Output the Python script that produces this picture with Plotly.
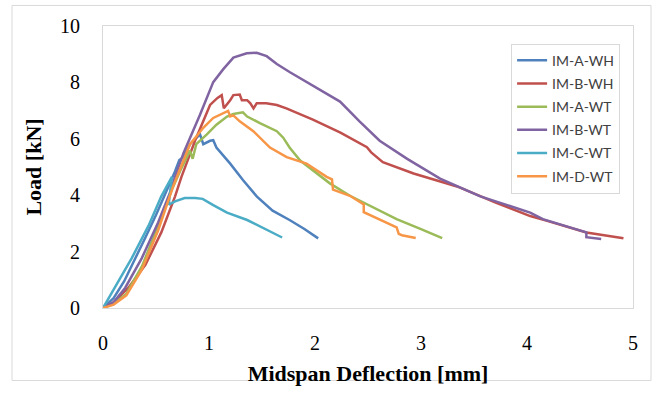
import plotly.graph_objects as go

# ---- data ----
a_wh_x = [0, 0.1, 0.2, 0.3, 0.4, 0.5, 0.6, 0.68, 0.72, 0.76, 0.82, 0.915, 0.946, 1.01, 1.04, 1.07, 1.2, 1.32, 1.45, 1.6, 1.76, 1.9, 2.03]
a_wh_y = [0, 0.35, 0.95, 1.7, 2.5, 3.3, 4.15, 4.85, 5.25, 5.35, 5.81, 6.16, 5.81, 5.93, 5.95, 5.69, 5.12, 4.54, 3.96, 3.45, 3.12, 2.8, 2.47]

b_wh_x = [0, 0.1, 0.24, 0.4, 0.55, 0.68, 0.74, 0.87, 1.01, 1.08, 1.12, 1.14, 1.2, 1.23, 1.29, 1.31, 1.36, 1.39, 1.42, 1.45, 1.54, 1.64, 1.73, 1.98, 2.24, 2.49, 2.53, 2.64, 2.93, 3.34, 3.71, 4.03, 4.19, 4.56, 4.91]
b_wh_y = [0, 0.2, 0.72, 1.53, 2.68, 3.96, 4.65, 5.95, 7.2, 7.45, 7.55, 7.08, 7.37, 7.55, 7.57, 7.37, 7.37, 7.26, 7.08, 7.26, 7.26, 7.2, 7.08, 6.68, 6.22, 5.7, 5.52, 5.17, 4.77, 4.31, 3.73, 3.26, 3.09, 2.68, 2.47]

a_wt_x = [0, 0.1, 0.22, 0.37, 0.52, 0.65, 0.73, 0.82, 0.846, 0.88, 0.98, 1.07, 1.17, 1.23, 1.32, 1.36, 1.48, 1.64, 1.70, 1.76, 1.86, 1.98, 2.14, 2.33, 2.46, 2.77, 3.0, 3.2]
a_wt_y = [0, 0.15, 0.5, 1.5, 2.9, 4.2, 4.88, 5.58, 5.29, 5.81, 6.16, 6.5, 6.79, 6.88, 6.94, 6.79, 6.56, 6.27, 6.04, 5.69, 5.23, 4.88, 4.42, 3.98, 3.73, 3.15, 2.8, 2.48]

b_wt_x = [0, 0.1, 0.21, 0.365, 0.52, 0.63, 0.68, 0.76, 0.915, 1.04, 1.135, 1.23, 1.356, 1.45, 1.544, 1.64, 1.764, 1.98, 2.236, 2.42, 2.61, 2.87, 3.18, 3.56, 4.03, 4.15, 4.56, 4.56, 4.70]
b_wt_y = [0, 0.2, 0.72, 1.76, 3.03, 4.07, 4.65, 5.5, 6.85, 8.01, 8.47, 8.88, 9.03, 9.05, 8.93, 8.65, 8.36, 7.89, 7.32, 6.62, 5.93, 5.29, 4.59, 3.96, 3.38, 3.15, 2.68, 2.51, 2.45]

c_wt_x = [0, 0.113, 0.27, 0.43, 0.55, 0.65, 0.62, 0.68, 0.77, 0.87, 0.94, 1.04, 1.17, 1.36, 1.55, 1.69]
c_wt_y = [0, 0.72, 1.76, 2.92, 3.96, 4.65, 3.67, 3.78, 3.9, 3.9, 3.87, 3.65, 3.38, 3.12, 2.75, 2.5]

d_wt_x = [0, 0.1, 0.22, 0.365, 0.52, 0.66, 0.82, 0.946, 1.04, 1.135, 1.18, 1.20, 1.23, 1.29, 1.418, 1.575, 1.733, 1.92, 2.11, 2.16, 2.17, 2.33, 2.46, 2.46, 2.77, 2.79, 2.82, 2.95]
d_wt_y = [0, 0.12, 0.45, 1.35, 2.75, 4.3, 5.8, 6.39, 6.74, 6.91, 6.99, 6.79, 6.83, 6.62, 6.27, 5.69, 5.35, 5.12, 4.65, 4.56, 4.2, 3.98, 3.67, 3.40, 2.86, 2.63, 2.58, 2.48]

series_names = ["IM-A-WH", "IM-B-WH", "IM-A-WT", "IM-B-WT", "IM-C-WT", "IM-D-WT"]
series_x = [a_wh_x, b_wh_x, a_wt_x, b_wt_x, c_wt_x, d_wt_x]
series_y = [a_wh_y, b_wh_y, a_wt_y, b_wt_y, c_wt_y, d_wt_y]
series_colors = ["#4F81BD", "#C0504D", "#9BBB59", "#8064A2", "#4BACC6", "#F79646"]

x_ticks = [0, 1, 2, 3, 4, 5]
y_ticks = [0, 2, 4, 6, 8, 10]

fig = go.Figure()
for name, xs, ys, col in zip(series_names, series_x, series_y, series_colors):
    fig.add_trace(go.Scatter(x=xs, y=ys, mode="lines", name=name, legendgroup=name,
                             line=dict(color=col, width=2.5)))

serif = "Liberation Serif"
fig.update_layout(
    width=659, height=393,
    margin=dict(l=103, r=26, t=26, b=79),
    paper_bgcolor="white", plot_bgcolor="white",
    showlegend=True,
    legend=dict(x=0.77, y=0.9375, xanchor="left", yanchor="top",
                bordercolor="#d9d9d9", borderwidth=1, bgcolor="white",
                font=dict(family="Lato", size=14, color="#404040"),
                tracegroupgap=2),
    xaxis=dict(range=[0, 5], tickvals=x_ticks, showgrid=False, zeroline=False,
               showline=True, mirror=True, linecolor="#d9d9d9", linewidth=1,
               ticks="", ticklabelstandoff=17,
               tickfont=dict(family=serif, size=20, color="black"),
               title=dict(text="<b>Midspan Deflection [mm]</b>", standoff=12,
                          font=dict(family=serif, size=22, color="black"))),
    yaxis=dict(range=[0, 10], tickvals=y_ticks, showgrid=False, zeroline=False,
               showline=True, mirror=True, linecolor="#d9d9d9", linewidth=1,
               ticks="", ticklabelstandoff=18,
               tickfont=dict(family=serif, size=20, color="black"),
               title=dict(text="<b>Load [kN]</b>", standoff=12,
                          font=dict(family=serif, size=22, color="black"))),
    shapes=[dict(type="rect", xref="paper", yref="paper",
                 x0=(12 - 103) / 530, x1=(651 - 103) / 530,
                 y0=(314 - 388) / 288, y1=(314 - 5) / 288,
                 line=dict(color="#d9d9d9", width=1), fillcolor="rgba(0,0,0,0)",
                 layer="below")],
)

fig.write_html("out.html")
